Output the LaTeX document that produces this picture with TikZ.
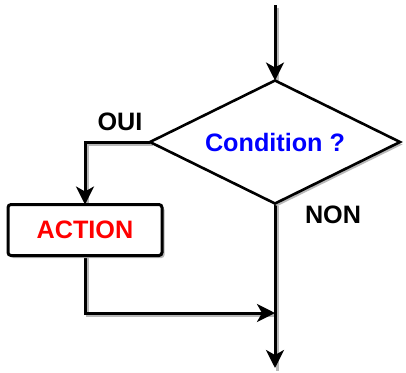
\documentclass[tikz,border=0pt]{standalone}
\usepackage{fontspec}
\setmainfont{Liberation Sans}
\usetikzlibrary{positioning,shapes.geometric,arrows.meta,shadows}

\begin{document}
\begin{tikzpicture}[
    x=1pt,y=-1pt,line width=3pt,
    txt/.style={font={\fontsize{25.2}{29}\selectfont\bfseries}},
    shadowed/.style={drop shadow={shadow xshift=2.5pt,shadow yshift=-2.5pt,fill=black!28,opacity=1}},
    decision/.style={diamond,aspect=2,draw,fill=white,shadowed,txt,text=blue,line width=2.6pt,
                      inner sep=0pt,outer sep=0pt,minimum width=250pt,minimum height=123pt},
    actionbox/.style={rectangle,draw,fill=white,shadowed,txt,text=red,rounded corners=3pt,
                      inner sep=0pt,outer sep=0pt,minimum width=154pt,minimum height=51pt},
    flow/.style={-{Stealth[length=18pt,width=18pt,inset=5pt]},
                  preaction={draw=black!28,-,transform canvas={shift={(2.5pt,-2.5pt)}}}},]

    \useasboundingbox (0,0) rectangle (406,372);

    \coordinate (start) at (275,5);
    \coordinate (join) at (275,313);
    \coordinate (stop) at (275,368);

    % flow lines
    \draw[flow] (start) -- (275,80.5);
    \draw[flow] (150,142) -| (85,204.5);
    \draw[flow] (85,255.5) |- (join);
    \draw[flow] (275,203.5) -- (stop);

    \node[decision] (cond) at (275,142) {Condition ?};
    \node[actionbox] (action) at (85,230) {ACTION};

    \node[txt] (oui) at (120,122) {OUI};
    \node[txt] (non) at (333,215) {NON};

\end{tikzpicture}
\end{document}
